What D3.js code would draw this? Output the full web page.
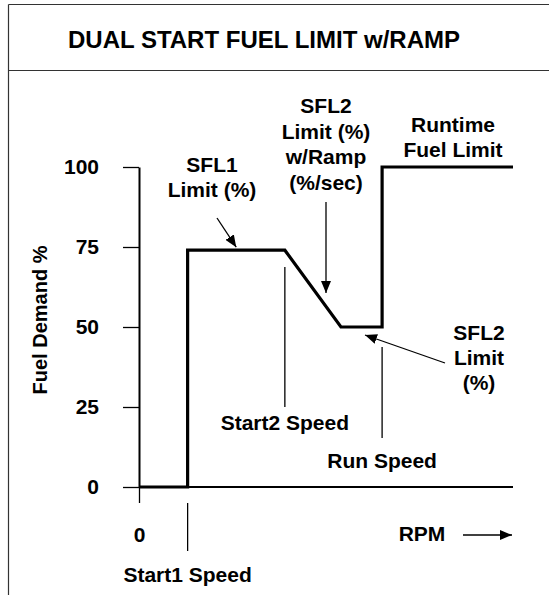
<!DOCTYPE html>
<html>
<head>
<meta charset="utf-8">
<script src="https://cdn.jsdelivr.net/npm/d3@7"></script>
<style>
  html, body { margin: 0; padding: 0; background: #fff; }
  svg { display: block; }
  text { font-family: "Liberation Sans", Arial, Helvetica, sans-serif; font-weight: bold; fill: #000; }
</style>
</head>
<body>
<svg id="chart" width="549" height="595"></svg>
<script>
// Fuel demand profile versus engine speed (RPM in relative units 0..100)
const rpm  = [0, 13, 13, 39, 54, 65, 65, 100];
const fuel = [0, 0, 74, 74, 50, 50, 100, 100];

// Characteristic speeds along the RPM axis
const speedNames  = ["Start1 Speed", "Start2 Speed", "Run Speed"];
const speedValues = [13, 39, 65];

const yTicks = [0, 25, 50, 75, 100];
const xTicks = [0];

const title = "DUAL START FUEL LIMIT w/RAMP";
const yTitle = "Fuel Demand %";
const xTitle = "RPM";

const svg = d3.select("#chart");

const x = d3.scaleLinear().domain([0, 100]).range([139, 513]);
const y = d3.scaleLinear().domain([0, 100]).range([487, 167]);

// Arrow marker
svg.append("defs").append("marker")
  .attr("id", "head")
  .attr("viewBox", "0 0 12 10")
  .attr("refX", 12).attr("refY", 5)
  .attr("markerWidth", 12).attr("markerHeight", 10)
  .attr("markerUnits", "userSpaceOnUse")
  .attr("orient", "auto")
  .append("path").attr("d", "M0,0 L12,5 L0,10 Z").attr("fill", "#000");

// Frame and title band
const frame = svg.append("g").attr("stroke", "#333").attr("stroke-width", 1.2);
frame.append("line").attr("x1", 8.5).attr("x2", 8.5).attr("y1", 4.5).attr("y2", 595);
frame.append("line").attr("x1", 8.5).attr("x2", 549).attr("y1", 4.5).attr("y2", 4.5);
frame.append("line").attr("x1", 8.5).attr("x2", 549).attr("y1", 70.5).attr("y2", 70.5);

svg.append("text").attr("x", 264).attr("y", 48)
  .attr("text-anchor", "middle").style("font-size", "24px").text(title);

// Y axis
const yAxis = svg.append("g").attr("transform", `translate(${x(0)},0)`)
  .call(d3.axisLeft(y).tickValues(yTicks).tickSize(16).tickSizeOuter(0).tickPadding(24));
yAxis.select(".domain").attr("stroke", "#000").attr("stroke-width", 2);
yAxis.selectAll(".tick line").attr("stroke", "#000").attr("stroke-width", 1.3);
yAxis.selectAll(".tick text").style("font-size", "21px").style("font-family", null).attr("fill", "#000");

// X axis baseline and zero tick
svg.append("line").attr("x1", x(0)).attr("x2", x(100)).attr("y1", y(0)).attr("y2", y(0))
  .attr("stroke", "#000").attr("stroke-width", 2.2);
const xAxis = svg.append("g").attr("transform", `translate(0,${y(0)})`)
  .call(d3.axisBottom(x).tickValues(xTicks).tickSize(16).tickSizeOuter(0).tickPadding(24));
xAxis.select(".domain").remove();
xAxis.selectAll(".tick line").attr("stroke", "#000").attr("stroke-width", 1.3);
xAxis.selectAll(".tick text").style("font-size", "21px").style("font-family", null).attr("fill", "#000");

// Axis titles
svg.append("text").attr("transform", "translate(47,320) rotate(-90)")
  .attr("text-anchor", "middle").style("font-size", "20px").text(yTitle);
svg.append("text").attr("x", 422).attr("y", 541)
  .attr("text-anchor", "middle").style("font-size", "21px").text(xTitle);
svg.append("line").attr("x1", 463).attr("x2", 512).attr("y1", 535).attr("y2", 535)
  .attr("stroke", "#000").attr("stroke-width", 1.3).attr("marker-end", "url(#head)");

// Speed markers: [top, bottom] of each line and label baseline
const speedLines = [[503, 551, 582], [267, 407, 430], [347, 438, 468]];
speedValues.forEach((v, i) => {
  const [t, b, ly] = speedLines[i];
  svg.append("line").attr("x1", x(v)).attr("x2", x(v)).attr("y1", t).attr("y2", b)
    .attr("stroke", "#000").attr("stroke-width", 1.3);
  svg.append("text").attr("x", x(v)).attr("y", ly)
    .attr("text-anchor", "middle").style("font-size", "21px").text(speedNames[i]);
});

// Fuel limit curve
const pts = rpm.map((r, i) => [x(r), y(fuel[i])]);
svg.append("path").attr("d", d3.line()(pts))
  .attr("fill", "none").attr("stroke", "#000").attr("stroke-width", 3.2)
  .attr("stroke-linejoin", "miter");

// Annotations
function multiline(cx, y0, dy, lines) {
  const t = svg.append("text").attr("text-anchor", "middle").style("font-size", "21px");
  lines.forEach((s, i) => t.append("tspan").attr("x", cx).attr("y", y0 + i * dy).text(s));
}
multiline(212, 172, 25, ["SFL1", "Limit (%)"]);
multiline(326, 113, 25.5, ["SFL2", "Limit (%)", "w/Ramp", "(%/sec)"]);
multiline(453, 132, 25, ["Runtime", "Fuel Limit"]);
multiline(479, 340, 25, ["SFL2", "Limit", "(%)"]);

function arrow(x1, y1, x2, y2) {
  svg.append("line").attr("x1", x1).attr("y1", y1).attr("x2", x2).attr("y2", y2)
    .attr("stroke", "#000").attr("stroke-width", 1.3).attr("marker-end", "url(#head)");
}
arrow(217, 218, x(26), y(74) - 3);
arrow(326, 202, 326, 293);
arrow(445, 363, 365, 335);
</script>
</body>
</html>
